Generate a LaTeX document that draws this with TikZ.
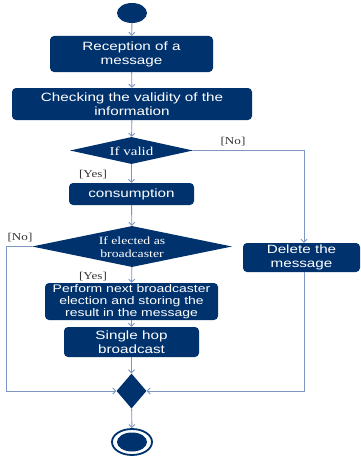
\documentclass[tikz,border=0pt]{standalone}
\usepackage{fontspec}
\setmainfont{Liberation Sans}[FakeStretch=1.27]
\newfontfamily\lblserif{Liberation Serif}[FakeStretch=1.25]
\usetikzlibrary{arrows.meta,shapes.geometric}
\definecolor{navy}{HTML}{00326E}
\definecolor{edge}{HTML}{7D96C0}
\begin{document}
\begin{tikzpicture}[x=1pt,y=-1pt,
  box/.style={fill=navy, rounded corners=4pt, text=white, align=center, inner sep=0pt,
    font=\fontsize{12}{14}\selectfont},
  smallbox/.style={box, font=\fontsize{11}{12.3}\selectfont},
  dia/.style={diamond, fill=navy, inner sep=0pt},
  diatext/.style={text=white, align=center, inner sep=0pt, font=\lblserif\fontsize{12}{13}\selectfont},
  lbl/.style={text=black!80, inner sep=0pt, font=\lblserif\fontsize{10.5}{12}\selectfont},
  arr/.style={draw=edge, line width=0.9pt, -{Straight Barb[length=3pt,width=6pt]}}]
\useasboundingbox (0,0) rectangle (360,460);
\fill[white] (0,0) rectangle (360,460);

\node[ellipse, fill=navy, minimum width=30pt, minimum height=20pt, inner sep=0pt] (start) at (132,13) {};
\node[box, minimum width=163pt, minimum height=36pt] (b1) at (131.5,54) {Reception of a\\message};
\node[box, minimum width=240pt, minimum height=32pt] (b2) at (132,104) {Checking the validity of the\\information};
\node[dia, minimum width=123pt, minimum height=27pt] (d1) at (131.5,150.5) {};
\node[diatext] (d1t) at (131.5,151) {If valid};
\node[box, minimum width=125pt, minimum height=22pt] (cons) at (131.5,194) {consumption};
\node[dia, minimum width=200pt, minimum height=41pt] (d2) at (132,246.5) {};
\node[diatext, font=\lblserif\fontsize{11}{12.5}\selectfont] (d2t) at (132,247) {If elected as\\broadcaster};
\node[box, minimum width=117pt, minimum height=29pt] (del) at (301.5,257.5) {Delete the\\message};
\node[smallbox, minimum width=173pt, minimum height=37pt] (perf) at (131.5,301.5) {Perform next broadcaster\\election and storing the\\result in the message};
\node[box, minimum width=135pt, minimum height=30pt] (single) at (131.5,342) {Single hop\\broadcast};
\node[dia, minimum width=30pt, minimum height=35pt] (m) at (131.5,391) {};
\node[ellipse, draw=navy, line width=1.8pt, fill=white, minimum width=40pt, minimum height=26pt, inner sep=0pt] (endo) at (132,442) {};
\node[ellipse, fill=navy, minimum width=30pt, minimum height=19pt, inner sep=0pt] (endi) at (132,442) {};

\coordinate (rt) at (304,150.5);
\coordinate (lt) at (6,246.5);

\node[lbl] (no1) at (233,142) {[No]};
\node[lbl] (yes1) at (93,175) {[Yes]};
\node[lbl] (no2) at (20,238) {[No]};
\node[lbl] (yes2) at (93,277) {[Yes]};

\draw[arr] (start) -- (b1);
\draw[arr] (b1) -- (b2);
\draw[arr] (b2) -- (d1);
\draw[arr] (d1) -- (cons);
\draw[arr] (d1.east) -- (rt) -- (rt |- del.north);
\draw[arr] (cons) -- (d2);
\draw[arr] (d2.west) -- (lt) |- (m.west);
\draw[arr] (d2) -- (perf);
\draw[arr] (perf) -- (single);
\draw[arr] (single) -- (m);
\draw[arr] (del.south -| rt) |- (m.east);
\draw[arr] (m) -- (endo);
\end{tikzpicture}
\end{document}
